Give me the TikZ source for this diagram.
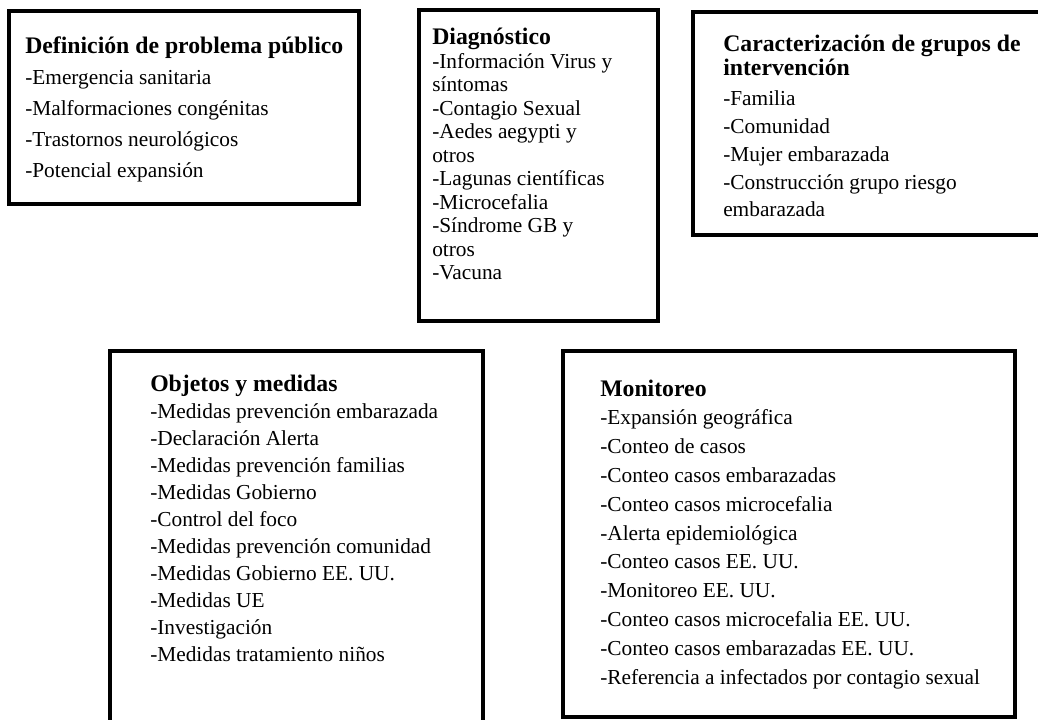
\documentclass[tikz,border=0pt]{standalone}
\usepackage{fontspec}
\setmainfont{Liberation Serif}
\usetikzlibrary{fit}
\tikzset{
  frame/.style={draw=black, line width=3pt, inner sep=0pt},
  txt/.style={anchor=base west, inner sep=0pt, font=\fontsize{16}{19}\selectfont},
}
\newcommand\Ttl[1]{\hbox{\fontsize{17.8}{20}\selectfont\bfseries #1}}
\newcommand\Ln[1]{\hbox{#1}}
\begin{document}
\begin{tikzpicture}[x=0.75pt,y=-0.75pt]
\useasboundingbox (0,0) rectangle (1038,720);
\fill[white] (0,0) rectangle (1038,720);
% frames
\node[frame, fit={(9,11) (359,204)}] (b1) {};
\node[frame, fit={(419,10) (658,321)}] (b2) {};
\node[frame, fit={(693,12) (1050,235)}] (b3) {};
\node[frame, fit={(110,351) (483,735)}] (b4) {};
\node[frame, fit={(563,351) (1015,717)}] (b5) {};
% texts
\node[txt] (t1) at (25,54) {\vtop{\baselineskip=23.25pt
  \Ttl{Definición de problema público}
  \Ln{-Emergencia sanitaria}
  \Ln{-Malformaciones congénitas}
  \Ln{-Trastornos neurológicos}
  \Ln{-Potencial expansión}}};
\node[txt] (t2) at (432,45) {\vtop{\baselineskip=17.6pt
  \Ttl{Diagnóstico}
  \Ln{-Información Virus y}
  \Ln{síntomas}
  \Ln{-Contagio Sexual}
  \Ln{-Aedes aegypti y}
  \Ln{otros}
  \Ln{-Lagunas científicas}
  \Ln{-Microcefalia}
  \Ln{-Síndrome GB y}
  \Ln{otros}
  \Ln{-Vacuna}}};
\node[txt] (t3) at (723,52) {\vtop{\baselineskip=17.6pt
  \Ttl{Caracterización de grupos de}
  \Ttl{intervención}
  \baselineskip=20.8pt
  \vskip 2pt
  \Ln{-Familia}
  \Ln{-Comunidad}
  \Ln{-Mujer embarazada}
  \Ln{-Construcción grupo riesgo}
  \Ln{embarazada}}};
\node[txt] (t4) at (150,391) {\vtop{\baselineskip=20.3pt
  \Ttl{Objetos y medidas}
  \Ln{-Medidas prevención embarazada}
  \Ln{-Declaración Alerta}
  \Ln{-Medidas prevención familias}
  \Ln{-Medidas Gobierno}
  \Ln{-Control del foco}
  \Ln{-Medidas prevención comunidad}
  \Ln{-Medidas Gobierno EE. UU.}
  \Ln{-Medidas UE}
  \Ln{-Investigación}
  \Ln{-Medidas tratamiento niños}}};
\node[txt] (t5) at (600,396) {\vtop{\baselineskip=21.6pt
  \Ttl{Monitoreo}
  \Ln{-Expansión geográfica}
  \Ln{-Conteo de casos}
  \Ln{-Conteo casos embarazadas}
  \Ln{-Conteo casos microcefalia}
  \Ln{-Alerta epidemiológica}
  \Ln{-Conteo casos EE. UU.}
  \Ln{-Monitoreo EE. UU.}
  \Ln{-Conteo casos microcefalia EE. UU.}
  \Ln{-Conteo casos embarazadas EE. UU.}
  \Ln{-Referencia a infectados por contagio sexual}}};
\end{tikzpicture}
\end{document}
